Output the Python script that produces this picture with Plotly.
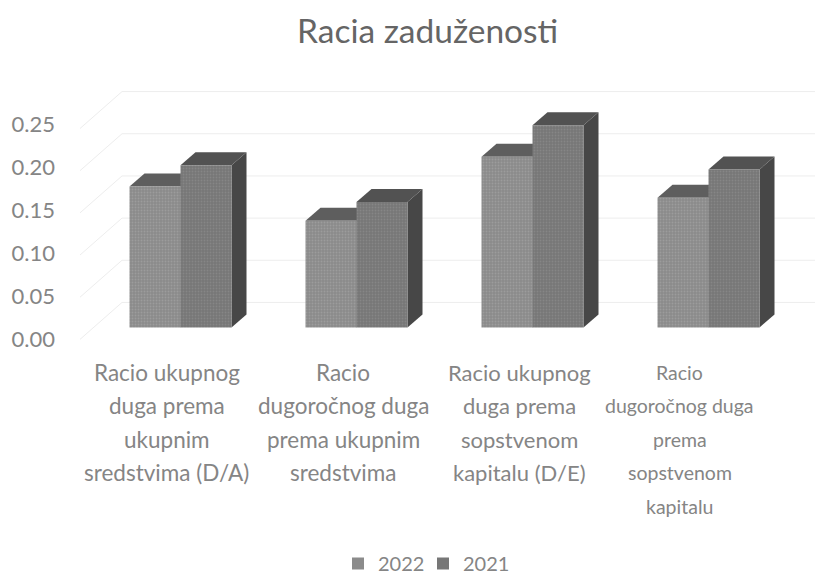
import plotly.graph_objects as go

# --- data ---
series_names = ["2022", "2021"]
values_2022 = [0.165, 0.125, 0.20, 0.152]
values_2021 = [0.19, 0.147, 0.237, 0.185]
y_ticks = [0.00, 0.05, 0.10, 0.15, 0.20, 0.25]
y_tick_labels = ["0.00", "0.05", "0.10", "0.15", "0.20", "0.25"]
category_lines = [
    ["Racio ukupnog", "duga prema", "ukupnim", "sredstvima (D/A)"],
    ["Racio", "dugoročnog duga", "prema ukupnim", "sredstvima"],
    ["Racio ukupnog", "duga prema", "sopstvenom", "kapitalu (D/E)"],
    ["Racio", "dugoročnog duga", "prema", "sopstvenom", "kapitalu"],
]
title_text = "Racia zaduženosti"

# --- geometry (pixels in the 825x575 page; the page body has an 8px margin) ---
OFF = 8
W, H = 825 - OFF, 575
MB = 40
PH = H - MB
ML = 56 - OFF
CAT_PX0, CAT_STEP = 180.5 - OFF, 176.0
BAR_W = 51 / CAT_STEP
DEPTH_X = 15 / CAT_STEP
FONT = "Lato"
C_TEXT = "#858585"

def y_range(zero_px, scale):
    zero_px -= OFF
    return [(zero_px - PH) / scale, zero_px / scale]

def px_x(px):
    return (px - OFF - CAT_PX0) / CAT_STEP

def paper_y(px):
    return 1 - (px - OFF) / PH

FRONT = (340, 860)
BAR = (328, 855)
WALL = (303, 845)
DEPTH_Y = 13 / BAR[1]
x_range = [(ML - CAT_PX0) / CAT_STEP, (W - CAT_PX0) / CAT_STEP]
WALL_L = px_x(122)
WALL_R = px_x(815)
FRONT_L = px_x(80)
WALL_DY = 37 / WALL[1]

colors = {"2022": ("#8b8b8b", "#5e5e5e", "#4d4d4d", "#9c9c9c"),
          "2021": ("#777777", "#525252", "#474747", "#868686")}
fig = go.Figure()

# wall grid
gx, gy = [], []
for t in y_ticks:
    gx += [FRONT_L, WALL_L, WALL_R, None]
    gy += [t - WALL_DY, t, t, None]
fig.add_trace(go.Scatter(x=gx, y=gy, mode="lines", yaxis="y",
                         line=dict(color="#ededed", width=1),
                         hoverinfo="skip", showlegend=False))

def poly(xs, ys, color):
    fig.add_trace(go.Scatter(x=xs, y=ys, mode="lines", fill="toself", fillcolor=color,
                             line=dict(width=0), yaxis="y2",
                             hoverinfo="skip", showlegend=False))

# side and top faces
for name, vals, off in ((series_names[0], values_2022, -BAR_W), (series_names[1], values_2021, 0.0)):
    c_front, c_top, c_side, _ = colors[name]
    for i, v in enumerate(vals):
        l, r = i + off, i + off + BAR_W
        poly([r, r + DEPTH_X, r + DEPTH_X, r, r], [0, DEPTH_Y, v + DEPTH_Y, v, 0], c_side)
        poly([l, l + DEPTH_X, r + DEPTH_X, r, l], [v, v + DEPTH_Y, v + DEPTH_Y, v, v], c_top)

# front faces
for name, vals, off in ((series_names[0], values_2022, -BAR_W), (series_names[1], values_2021, 0.0)):
    c_front, _, _, c_dot = colors[name]
    fig.add_trace(go.Bar(x=list(range(4)), y=vals, width=BAR_W, offset=off, yaxis="y3",
                         name=name, showlegend=False,
                         marker=dict(color=c_front, line=dict(width=0),
                                     pattern=dict(shape=".", size=3, solidity=0.3,
                                                  fgcolor=c_dot, bgcolor=c_front, fillmode="replace"))))

# legend entries, one legend each so the two can sit as close as in the reference
for name, leg in zip(series_names, ("legend", "legend2")):
    fig.add_trace(go.Scatter(x=[None], y=[None], mode="markers", name=name, yaxis="y2", legend=leg,
                             marker=dict(symbol="square", size=12, color=colors[name][0])))

# axis for the value labels
fig.add_trace(go.Scatter(x=[x_range[0]], y=[0], mode="markers", marker=dict(opacity=0), yaxis="y4",
                         hoverinfo="skip", showlegend=False))

# category labels, one line at a time to get the wide line spacing
centers_px = [166.5, 343, 519.5, 679.5]
label_sizes = [22.5, 22.5, 22, 19.5]
LINE0, LINE_STEP = 373, 33.5
annotations = []
for i, lines in enumerate(category_lines):
    for j, text in enumerate(lines):
        annotations.append(dict(x=px_x(centers_px[i]), xref="x", xanchor="center",
                                y=paper_y(LINE0 + j * LINE_STEP), yref="paper", yanchor="middle",
                                text=text, showarrow=False,
                                font=dict(family=FONT, size=label_sizes[i], color=C_TEXT)))
annotations.append(dict(x=(427 - OFF - ML) / (W - ML), xref="paper", xanchor="center",
                        y=paper_y(30), yref="paper", yanchor="middle", text=title_text, showarrow=False,
                        font=dict(family=FONT, size=33.5, color="#656565")))

def legend_at(px):
    return dict(orientation="h", x=(px - OFF - ML) / (W - ML), xanchor="left", y=paper_y(565),
                yanchor="middle", font=dict(family=FONT, size=20, color=C_TEXT), itemwidth=30,
                bgcolor="rgba(0,0,0,0)")

hidden = dict(visible=False, overlaying="y")
fig.update_layout(
    width=W, height=H, margin=dict(l=ML, r=0, t=0, b=MB),
    paper_bgcolor="white", plot_bgcolor="white", barmode="overlay",
    xaxis=dict(range=x_range, visible=False),
    yaxis=dict(range=y_range(*WALL), visible=False),
    yaxis2=dict(range=y_range(*BAR), **hidden),
    yaxis3=dict(range=y_range(*BAR), **hidden),
    yaxis4=dict(range=y_range(*FRONT), overlaying="y", side="left", showgrid=False, zeroline=False,
                showline=False, ticks="", tickvals=y_ticks, ticktext=y_tick_labels,
                tickfont=dict(family=FONT, size=22, color=C_TEXT)),
    legend=legend_at(338),
    legend2=legend_at(423),
    annotations=annotations,
)
fig.write_html("out.html")
